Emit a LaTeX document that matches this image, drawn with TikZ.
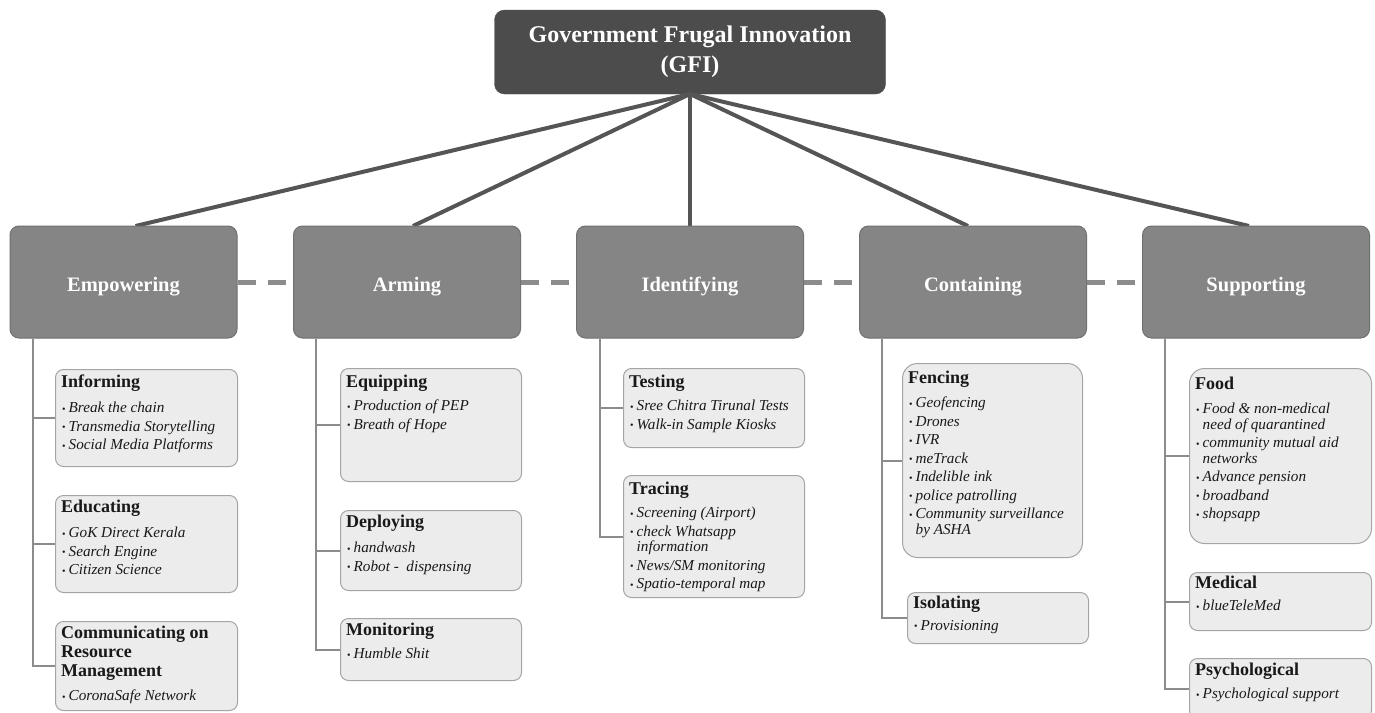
\documentclass[tikz,border=0pt]{standalone}
\usepackage{fontspec}
\setmainfont{Liberation Serif}
\usetikzlibrary{calc}
\definecolor{topfill}{RGB}{76,76,76}
\definecolor{colfill}{RGB}{133,133,133}
\definecolor{colborder}{RGB}{112,112,112}
\definecolor{subfill}{RGB}{236,236,236}
\definecolor{subborder}{RGB}{165,165,165}
\definecolor{linecol}{RGB}{85,85,85}
\definecolor{dashcol}{RGB}{140,140,140}
\definecolor{branchcol}{RGB}{140,140,140}
\definecolor{textcol}{RGB}{25,25,25}
\newcommand\bl{\makebox[6.5pt][l]{\upshape\fontsize{10}{10}\selectfont\raisebox{0.3pt}{\textbullet}}}
\newcommand\cont{\hspace*{6.5pt}}
\tikzset{
  topbox/.style={draw=topfill, fill=topfill, rounded corners=10pt, minimum width=391pt, minimum height=84pt,
    text=white, align=center, font=\fontsize{24}{30}\selectfont\bfseries},
  colbox/.style={draw=colborder, line width=1pt, fill=colfill, rounded corners=9pt, minimum width=227pt, minimum height=112pt},
  collabel/.style={text=white, font=\fontsize{20.5}{22}\selectfont\bfseries, inner sep=0pt, anchor=base},
  subbox/.style={draw=subborder, line width=1pt, fill=subfill, rounded corners=8pt, inner sep=0pt},
  bigcorner/.style={rounded corners=15pt},
  sub-fen/.style={bigcorner},
  sub-foo/.style={bigcorner},
  subhead/.style={inner sep=0pt, align=left, text=textcol, font=\fontsize{18}{19}\selectfont\bfseries},
  subitems/.style={inner sep=0pt, align=left, text=textcol, font=\fontsize{15.2}{15.5}\selectfont\itshape},
  topline/.style={draw=linecol, line width=4pt},
  dashline/.style={draw=dashcol, line width=5pt, dash pattern=on 18pt off 12pt},
  branch/.style={draw=branchcol, line width=2pt},
}
% name, x, y, w, h, heading baseline offset, heading, items, items baseline offset
\newcommand\mysub[9]{%
  \node[subbox, sub-#1/.try, minimum width=#4pt, minimum height=#5pt, anchor=north west] (#1) at (#2,#3) {};
  \node[subhead, anchor=north west] (#1-h) at ($(#1.north west)+(6,#6-12.5)$) {#7};
  \node[subitems, anchor=north west] (#1-i) at ($(#1.north west)+(7,#9-10.2)$) {#8};
}
% name, center x, label
\newcommand\mycol[3]{%
  \node[colbox] (#1) at (#2,282) {};
  \node[collabel] (#1-l) at ($(#1.center)+(0,9)$) {#3};
}
\begin{document}
\begin{tikzpicture}[x=1pt,y=-1pt]
\useasboundingbox (0,0) rectangle (1375,712);
\fill[white] (0,0) rectangle (1375,712);

\node[topbox] (gfi) at (690,52) {Government Frugal Innovation\\(GFI)};

% lines from top (drawn before the boxes)
\coordinate (gfi-s) at (690,94);
\draw[topline] (gfi-s) -- (135.5,226);
\draw[topline] (gfi-s) -- (413,226);
\draw[topline] (gfi-s) -- (690,226);
\draw[topline] (gfi-s) -- (968,226);
\draw[topline] (gfi-s) -- (1249,226);

\mycol{emp}{123.5}{Empowering}
\mycol{arm}{407}{Arming}
\mycol{ide}{690}{Identifying}
\mycol{con}{973}{Containing}
\mycol{sup}{1256}{Supporting}

% dashed links between categories
\draw[dashline] (emp.east) -- (arm.west);
\draw[dashline] (arm.east) -- (ide.west);
\draw[dashline] (ide.east) -- (con.west);
\draw[dashline] (con.east) -- (sup.west);

% sub boxes
\mysub{inf}{55}{369}{182}{97}{18}{Informing}{\bl Break the chain\\[3pt]\bl Transmedia Storytelling\\[3pt]\bl Social Media Platforms}{43}
\mysub{edu}{55}{495}{182}{97}{17}{Educating}{\bl GoK Direct Kerala\\[3pt]\bl Search Engine\\[3pt]\bl Citizen Science}{42}
\mysub{com}{55}{621}{182}{89}{17}{Communicating on\\Resource\\Management}{\bl CoronaSafe Network}{79}

\mysub{equ}{340}{368}{181}{113}{19}{Equipping}{\bl Production of PEP\\[3pt]\bl Breath of Hope}{42}
\mysub{dep}{340}{510}{181}{80}{17}{Deploying}{\bl handwash\\[3pt]\bl Robot -\ \ dispensing}{42}
\mysub{mon}{340}{618}{181}{62}{17}{Monitoring}{\bl Humble Shit}{40}

\mysub{tes}{623}{368}{181}{79}{19}{Testing}{\bl Sree Chitra Tirunal Tests\\[3pt]\bl Walk-in Sample Kiosks}{42}
\mysub{tra}{623}{475}{181}{122}{19}{Tracing}{\bl Screening (Airport)\\[3pt]\bl check Whatsapp\\\cont information\\[3pt]\bl News/SM monitoring\\[3pt]\bl Spatio-temporal map}{42}

\mysub{fen}{902}{363}{180}{194}{20}{Fencing}{\bl Geofencing\\[3pt]\bl Drones\\[3pt]\bl IVR\\[3pt]\bl meTrack\\[3pt]\bl Indelible ink\\[3pt]\bl police patrolling\\[3pt]\bl Community surveillance\\\cont by ASHA}{44}
\mysub{iso}{907}{592}{181}{51}{16}{Isolating}{\bl Provisioning}{38}

\mysub{foo}{1189}{368}{182}{175}{21}{Food}{\bl Food \& non-medical\\\cont need of quarantined\\[3pt]\bl community mutual aid\\\cont networks\\[3pt]\bl Advance pension\\[3pt]\bl broadband\\[3pt]\bl shopsapp}{45}
\mysub{med}{1189}{572}{182}{58}{16}{Medical}{\bl blueTeleMed}{38}
\mysub{psy}{1189}{658}{182}{60}{17}{Psychological}{\bl Psychological support}{40}

% branch connectors
\coordinate (emp-v) at ($(emp.south west)+(23,0)$);
\coordinate (arm-v) at ($(arm.south west)+(23,0)$);
\coordinate (ide-v) at ($(ide.south west)+(24,0)$);
\coordinate (con-v) at ($(con.south west)+(23,0)$);
\coordinate (sup-v) at ($(sup.south west)+(23,0)$);
\draw[branch] (emp-v) |- (inf.west);
\draw[branch] (emp-v) |- (edu.west);
\draw[branch] (emp-v) |- (com.west);
\draw[branch] (arm-v) |- (equ.west);
\draw[branch] (arm-v) |- (dep.west);
\draw[branch] (arm-v) |- (mon.west);
\draw[branch] (ide-v) |- (tes.west);
\draw[branch] (ide-v) |- (tra.west);
\draw[branch] (con-v) |- (fen.west);
\draw[branch] (con-v) |- (iso.west);
\draw[branch] (sup-v) |- (foo.west);
\draw[branch] (sup-v) |- (med.west);
\draw[branch] (sup-v) |- (psy.west);
\end{tikzpicture}
\end{document}
